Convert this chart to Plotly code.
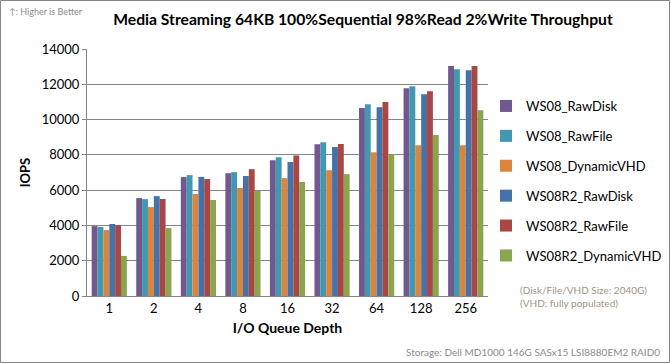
import plotly.graph_objects as go

categories = ["1", "2", "4", "8", "16", "32", "64", "128", "256"]
ws08_rawdisk = [3960, 5550, 6740, 6960, 7700, 8600, 10650, 11780, 13030]
ws08_rawfile = [3910, 5490, 6850, 7020, 7870, 8720, 10870, 11890, 12850]
ws08_dynvhd = [3740, 5040, 5780, 6120, 6680, 7130, 8150, 8550, 8550]
ws08r2_rawdisk = [4080, 5660, 6750, 6800, 7590, 8440, 10700, 11440, 12800]
ws08r2_rawfile = [4020, 5500, 6630, 7190, 7970, 8610, 10990, 11610, 13030]
ws08r2_dynvhd = [2270, 3850, 5440, 5950, 6460, 6910, 8040, 9120, 10530]

series = [
    ("WS08_RawDisk", ws08_rawdisk, "#71588F"),
    ("WS08_RawFile", ws08_rawfile, "#4198AF"),
    ("WS08_DynamicVHD", ws08_dynvhd, "#DB843D"),
    ("WS08R2_RawDisk", ws08r2_rawdisk, "#4572A7"),
    ("WS08R2_RawFile", ws08r2_rawfile, "#AA4643"),
    ("WS08R2_DynamicVHD", ws08r2_dynvhd, "#89A54E"),
]
y_ticks = [0, 2000, 4000, 6000, 8000, 10000, 12000, 14000]

FONT = "Lato"
fig = go.Figure()
for i, (name, vals, col) in enumerate(series):
    fig.add_trace(go.Bar(x=categories, y=vals, name=name, marker_color=col,
                         marker_line_width=0, legendgroup=f"g{i}"))

L, R, T, B = 87, 488, 49, 296
W, H = 671, 364
pw, ph = R - L, B - T
def px(x): return (x - L) / pw
def py(y): return (B - y) / ph

fig.update_layout(
    width=W, height=H,
    margin=dict(l=L, r=W - R, t=T, b=H - B, autoexpand=False),
    paper_bgcolor="white", plot_bgcolor="white",
    font=dict(family=FONT, size=13, color="black"),
    barmode="group", bargap=0.21, bargroupgap=0,
    title=dict(text="<b>Media Streaming 64KB 100%Sequential 98%Read 2%Write Throughput</b>",
               x=363 / W, xanchor="center", y=1 - 20 / H, yanchor="middle",
               font=dict(family=FONT, size=15.7, color="black")),
    xaxis=dict(type="category", showline=True, linecolor="#868686", linewidth=1,
               ticks="", tickfont=dict(size=13), automargin=False,
               title=dict(text="<b>I/O Queue Depth</b>", font=dict(size=14), standoff=8)),
    yaxis=dict(range=[0, 14000], tickvals=y_ticks, tickformat="d", showgrid=True,
               gridcolor="#868686", automargin=False,
               gridwidth=1, showline=True, linecolor="#868686", ticks="outside",
               ticklen=4, tickcolor="#868686", tickfont=dict(size=13),
               zeroline=False,
               title=dict(text="<b>IOPS</b>", font=dict(size=13), standoff=8)),
    legend=dict(x=px(486), xanchor="left", y=py(91), yanchor="top", itemwidth=30,
                font=dict(size=13), tracegroupgap=10, bgcolor="rgba(0,0,0,0)"),
    showlegend=True,
)

fig.add_annotation(text="↑: Higher is Better", xref="paper", yref="paper",
                   x=px(7), y=py(11), xanchor="left", yanchor="middle",
                   showarrow=False, font=dict(size=9, color="#8C8C8C"))
fig.add_annotation(text="(Disk/File/VHD Size: 2040G)", xref="paper", yref="paper",
                   x=px(518), y=py(290), xanchor="left", yanchor="middle",
                   showarrow=False, font=dict(size=10, color="#A09585"))
fig.add_annotation(text="(VHD: fully populated)", xref="paper", yref="paper",
                   x=px(518), y=py(303), xanchor="left", yanchor="middle",
                   showarrow=False, font=dict(size=10, color="#A09585"))
fig.add_annotation(text="Storage: Dell MD1000 146G SASx15 LSI8880EM2 RAID0", xref="paper", yref="paper",
                   x=px(662), y=py(352), xanchor="right", yanchor="middle",
                   showarrow=False, font=dict(size=10, color="#8C8C8C"))
fig.add_shape(type="rect", xref="paper", yref="paper",
              x0=px(0.5), x1=px(669.5), y0=py(0.5), y1=py(362.5),
              line=dict(color="#868686", width=1), layer="below")

fig.write_html("out.html", config={"displayModeBar": False},
               post_script="document.body.style.margin='0';")
